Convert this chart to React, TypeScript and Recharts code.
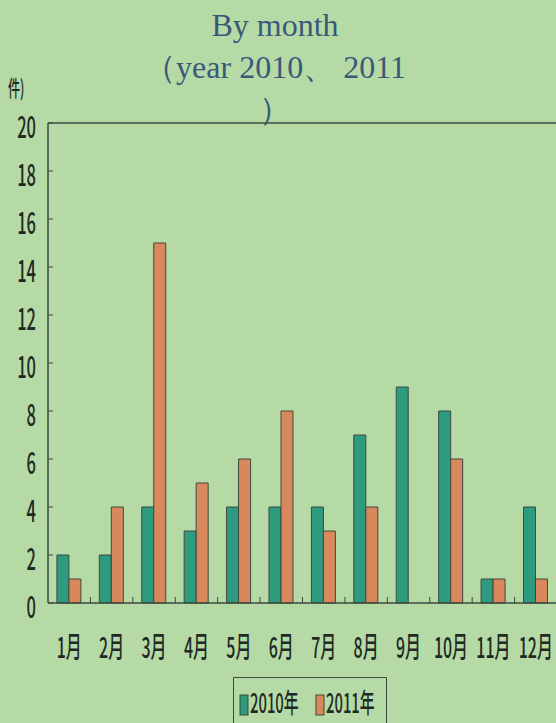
import React from 'react'
import { BarChart, Bar, XAxis, YAxis, Legend, ReferenceLine } from 'recharts'

// month categories and counts per year
const months = ['1月', '2月', '3月', '4月', '5月', '6月', '7月', '8月', '9月', '10月', '11月', '12月']
const counts2010 = [2, 2, 4, 3, 4, 4, 4, 7, 9, 8, 1, 4]
const counts2011 = [1, 4, 15, 5, 6, 8, 3, 4, 0, 6, 1, 1]
const yTicks = [0, 2, 4, 6, 8, 10, 12, 14, 16, 18, 20]

const chartData = months.map((m, i) => ({ month: m, y2010: counts2010[i], y2011: counts2011[i] }))

const BG = '#b6daa6'
const INK = '#1f2a24'
const AXIS = '#3d4a3f'
const GREEN = '#2e9a7e'
const ORANGE = '#d8885c'
const NARROW = "'Noto Sans CJK JP', 'DejaVu Sans', sans-serif"
const PLOT_W = 509
const BAND = PLOT_W / 12

// narrow label: squeeze glyphs horizontally to mimic the condensed print font
const Narrow = ({ x, y, anchor, size, children }: any) => (
  <text
    transform={`translate(${x},${y}) scale(0.55,1)`}
    textAnchor={anchor}
    fontFamily={NARROW}
    fontSize={size}
    fontWeight={500}
    fill={INK}
  >
    {children}
  </text>
)

const YTick = (props: any) => {
  const { x, y, payload } = props
  return (
    <g>
      <line x1={x + 8} x2={x + 13} y1={y} y2={y} stroke={AXIS} strokeWidth={1} />
      <Narrow x={x - 4} y={y + 15} anchor="end" size={30}>
        {payload.value}
      </Narrow>
    </g>
  )
}

const XTick = (props: any) => {
  const { x, y, payload } = props
  const axisY = y - 4
  return (
    <g>
      <line x1={x + BAND / 2} x2={x + BAND / 2} y1={axisY} y2={axisY - 6} stroke={AXIS} strokeWidth={1} />
      <Narrow x={x} y={axisY + 55} anchor="middle" size={29}>
        {payload.value}
      </Narrow>
    </g>
  )
}

const LegendBox = () => (
  <svg width={154} height={46} style={{ display: 'block', overflow: 'visible' }}>
    <path d="M0.5,46 V0.5 H153.5 V46" fill="none" stroke={AXIS} strokeWidth={1} />
    <rect x={7} y={18} width={8} height={20} fill={GREEN} stroke={AXIS} strokeWidth={1} />
    <Narrow x={17} y={36} anchor="start" size={27}>
      2010年
    </Narrow>
    <rect x={83} y={18} width={8} height={20} fill={ORANGE} stroke={AXIS} strokeWidth={1} />
    <Narrow x={93} y={36} anchor="start" size={27}>
      2011年
    </Narrow>
  </svg>
)

export default function App() {
  return (
    <div
      style={{
        position: 'fixed',
        left: 0,
        top: 0,
        width: 556,
        height: 723,
        overflow: 'hidden',
        background: BG,
      }}
    >
      <div
        style={{
          position: 'absolute',
          left: 0,
          width: 550,
          top: 4,
          textAlign: 'center',
          fontFamily: "'Liberation Serif', serif",
          color: '#3a5878',
          fontSize: 32,
          lineHeight: '42px',
        }}
      >
        <div>By month</div>
        <div>（year 2010、 2011</div>
        <div>）</div>
      </div>
      <svg style={{ position: 'absolute', left: 6, top: 74, overflow: 'visible' }} width={60} height={34}>
        <Narrow x={2} y={22} anchor="start" size={22}>
          件)
        </Narrow>
      </svg>
      <div style={{ position: 'absolute', left: 0, top: 0 }}>
        <BarChart
          width={600}
          height={723}
          data={chartData}
          margin={{ top: 123, right: 600 - 48 - PLOT_W, left: 0, bottom: 0 }}
          barCategoryGap="21%"
          barGap={0}
        >
          <XAxis
            dataKey="month"
            height={120}
            tickSize={0}
            tickMargin={4}
            tick={<XTick />}
            axisLine={{ stroke: AXIS, strokeWidth: 1.5 }}
            interval={0}
          />
          <YAxis
            width={48}
            domain={[0, 20]}
            ticks={yTicks}
            tickSize={0}
            tickMargin={8}
            tick={<YTick />}
            axisLine={{ stroke: AXIS, strokeWidth: 1.5 }}
            interval={0}
          />
          <ReferenceLine y={20} stroke={AXIS} strokeWidth={1.5} />
          <Legend
            layout="horizontal"
            verticalAlign="middle"
            content={<LegendBox />}
            wrapperStyle={{ position: 'absolute', left: 233, top: 677, width: 154, height: 46 }}
          />
          <Bar dataKey="y2010" name="2010年" fill={GREEN} stroke={AXIS} strokeWidth={1} isAnimationActive={false} />
          <Bar dataKey="y2011" name="2011年" fill={ORANGE} stroke={AXIS} strokeWidth={1} isAnimationActive={false} />
        </BarChart>
      </div>
    </div>
  )
}
